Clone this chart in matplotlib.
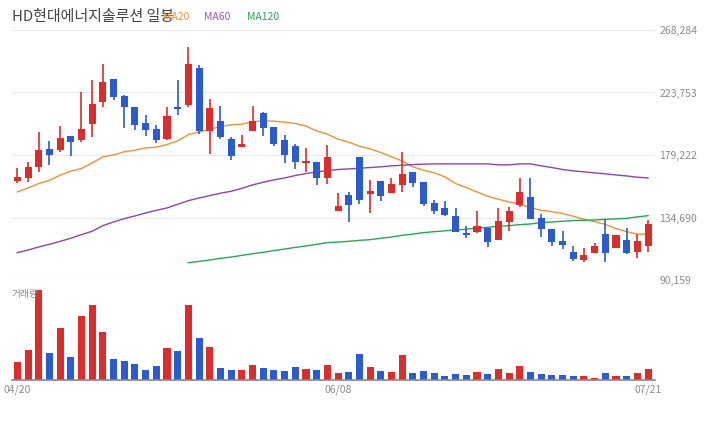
import matplotlib
matplotlib.use("agg")
import matplotlib.pyplot as plt
import numpy as np

plt.rcParams['font.family'] = ['Noto Sans CJK KR', 'DejaVu Sans']

title = "HD현대에너지솔루션 일봉"

# daily candles, 60 trading days (04/20 .. 07/21)
opens = [160800, 162900, 170800, 183400, 182900, 192600, 190000, 201400, 217100, 233300,
         221200, 213300, 201900, 197600, 190700, 213300, 215000, 241200, 196400, 203300,
         190500, 184800, 196400, 209100, 199100, 189800, 185500, 173600, 174100, 162900,
         139400, 150500, 177700, 151500, 160500, 152200, 157900, 167000, 159800, 144800,
         141300, 135600, 123400, 124400, 127000, 118700, 131500, 143600, 149100, 134100,
         126300, 117700, 109900, 104200, 109200, 122700, 112700, 118400, 109900, 114100]
highs = [169800, 174100, 195500, 189100, 199800, 192600, 224000, 232600, 244000, 233300,
         221900, 213300, 207600, 200500, 213300, 232600, 256200, 243300, 219000, 214100,
         191900, 193400, 214100, 209800, 199100, 193400, 186900, 184100, 174100, 186200,
         152000, 152700, 177700, 161200, 160500, 162700, 181200, 167000, 159800, 147000,
         146700, 141300, 128400, 139100, 127500, 141300, 142000, 162700, 162700, 137000,
         126300, 124800, 114100, 112700, 116300, 133400, 122000, 127000, 122700, 132700]
lows = [159300, 159800, 167000, 171900, 181500, 178600, 188600, 191900, 213600, 218600,
        198600, 197200, 192900, 187900, 190000, 207600, 213300, 194100, 179800, 190700,
        175500, 184800, 196400, 192900, 185700, 173600, 169300, 167000, 157900, 158600,
        139400, 131500, 144400, 137900, 146500, 152200, 152900, 156500, 142900, 137200,
        135800, 124400, 120300, 123700, 113700, 118700, 125100, 142200, 133400, 120600,
        114100, 112000, 103400, 102700, 109200, 102700, 112700, 108700, 105800, 109900]
closes = [163400, 170500, 182700, 179300, 191200, 188600, 197600, 215500, 231200, 220700,
          213600, 200700, 197200, 190000, 206900, 211900, 244000, 196400, 212600, 192200,
          178600, 186900, 203300, 198600, 187200, 179300, 174300, 175000, 162900, 177700,
          142700, 143600, 147200, 153400, 150100, 158400, 165500, 159300, 144400, 139400,
          136500, 124400, 122000, 128400, 117200, 132000, 139100, 152700, 133400, 126300,
          117000, 114900, 104900, 107700, 114100, 109200, 122000, 109400, 117700, 129800]
volumes = [55, 91, 270, 82, 157, 70, 193, 226, 145, 64, 58, 49, 31, 43, 97, 88, 226, 127, 100, 37,
           31, 31, 46, 37, 31, 28, 40, 34, 31, 46, 22, 25, 79, 40, 28, 25, 76, 22, 28, 22,
           13, 19, 16, 25, 19, 34, 22, 43, 25, 19, 16, 16, 13, 13, 7, 22, 13, 13, 22, 34]

ma20 = [152900, 155800, 158900, 161200, 164800, 167700, 169600, 173600, 177900, 179300,
        181500, 182600, 184300, 184800, 186700, 189300, 193800, 195500, 197600, 199500,
        200700, 201200, 202900, 203600, 203300, 202600, 201700, 199800, 196400, 194100,
        190500, 188400, 185500, 183600, 181000, 177900, 175000, 170800, 168400, 166500,
        163600, 158900, 156000, 152900, 149800, 147700, 145800, 144100, 141700, 139800,
        138900, 137500, 135600, 133400, 131700, 129800, 126800, 124600, 122900, 122700]
ma60 = [109600, 111500, 113700, 115600, 117700, 119900, 122500, 124900, 128900, 131500,
        133900, 135800, 137900, 139800, 141500, 144100, 146700, 148600, 150300, 152000,
        153400, 155500, 157900, 159800, 161500, 162900, 164600, 166000, 167200, 168100,
        168900, 169300, 169800, 170300, 170800, 171500, 171900, 172400, 172700, 172900,
        172900, 172900, 172900, 172900, 172900, 172200, 172200, 172900, 172900, 171500,
        170300, 168900, 167900, 167200, 166500, 165800, 165000, 164300, 163400, 162900]
ma120 = [np.nan] * 16 + [
        102500, 103400, 104400, 105600, 106500, 107700, 108900, 109900, 111100, 112200,
        113400, 114400, 115600, 116800, 117200, 117700, 118400, 118900, 119900, 120800,
        122000, 122900, 123900, 124600, 125200, 125800, 126300, 127200, 127700, 128400,
        128900, 129600, 130100, 131000, 131500, 132000, 132500, 132700, 132900, 133400,
        133700, 134100, 135100, 136000]

price_ticks = [90159, 134690, 179222, 223753, 268284]
date_pos = [0, 30, 59]
date_labels = ["04/20", "06/08", "07/21"]

RED = "#dd2c2c"
BLUE = "#2a5bd0"
GRID = "#ebebeb"
LABEL = "#8c8c8c"

W, H = 720, 440
fig = plt.figure(figsize=(7.2, 4.4), dpi=100)
ax = fig.add_axes([12 / W, 1 - 280 / H, 643 / W, 250 / H])
axv = fig.add_axes([12 / W, 1 - 380 / H, 643 / W, 100 / H], sharex=ax)

x = np.arange(len(opens))
colors = [RED if c >= o else BLUE for o, c in zip(opens, closes)]

# candles
ax.vlines(x, lows, highs, colors=colors, lw=1.2, zorder=3)
bottoms = [min(o, c) for o, c in zip(opens, closes)]
heights = [max(abs(c - o), 700) for o, c in zip(opens, closes)]
ax.bar(x, heights, bottom=bottoms, width=0.66, color=colors, zorder=4)

ax.plot(x, ma20, color="#ef9234", lw=1.0, zorder=2)
ax.plot(x, ma60, color="#8e44ad", lw=1.0, zorder=2)
ax.plot(x, ma120, color="#27a55c", lw=1.0, zorder=2)

ax.set_xlim(-0.5, 59.65)
ax.set_ylim(price_ticks[0], price_ticks[-1])
ax.set_yticks(price_ticks)
ax.set_yticklabels([f"{t:,}" for t in price_ticks])
ax.yaxis.tick_right()
ax.tick_params(axis="y", length=0, pad=3, labelsize=7.5, labelcolor=LABEL)
ax.tick_params(axis="x", bottom=False, labelbottom=False)
ax.grid(axis="y", color=GRID, lw=1)
for s in ax.spines.values():
    s.set_visible(False)

# volume
axv.bar(x, volumes, width=0.66, color=colors)
axv.set_ylim(0, max(volumes) / 0.9)
axv.set_yticks([])
axv.set_xticks(date_pos)
axv.set_xticklabels(date_labels)
axv.tick_params(axis="x", length=0, pad=3, labelsize=7.5, labelcolor=LABEL)
for k in ["top", "left", "right"]:
    axv.spines[k].set_visible(False)
axv.spines["bottom"].set_color("#888888")
axv.spines["bottom"].set_linewidth(1.2)
axv.text(0, 0.86, "거래량", transform=axv.transAxes, fontsize=7, color=LABEL, va="center", ha="left")

# header: title with MA legend (legend sits over the title's tail, as in the source)
fig.text(12 / W, 1 - 17 / H, title, fontsize=10.8, color="#444444", va="center", ha="left")
fig.text(163 / W, 1 - 17.5 / H, "MA20", fontsize=7.5, color="#ef9234", va="center")
fig.text(204 / W, 1 - 17.5 / H, "MA60", fontsize=7.5, color="#9b59b6", va="center")
fig.text(247 / W, 1 - 17.5 / H, "MA120", fontsize=7.5, color="#27a55c", va="center")

fig.savefig("out.png", dpi=100)
